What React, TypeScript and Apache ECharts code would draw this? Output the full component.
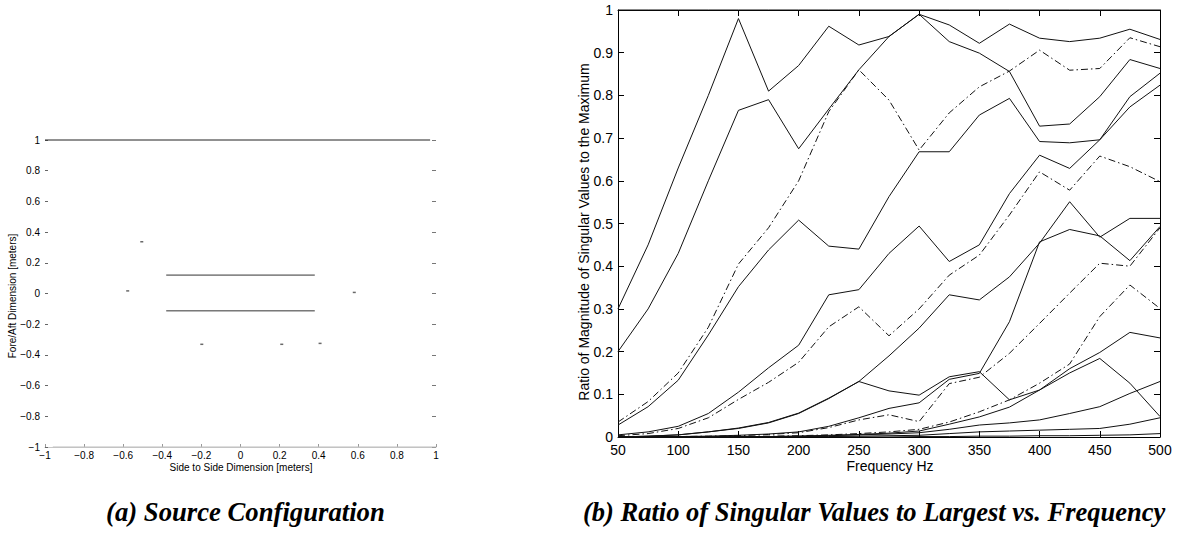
import React, { useEffect, useRef } from "react";
import * as echarts from "echarts";

// ---------- Data: (b) ratio of singular values to the largest vs. frequency ----------
const FREQS = [50, 75, 100, 125, 150, 175, 200, 225, 250, 275, 300, 325, 350, 375, 400, 425, 450, 475, 500];
const RIGHT_Y_TICKS = [0, 0.1, 0.2, 0.3, 0.4, 0.5, 0.6, 0.7, 0.8, 0.9, 1];

const SV1 = [1, 1, 1, 1, 1, 1, 1, 1, 1, 1, 1, 1, 1, 1, 1, 1, 1, 1, 1];
const SV2 = [0.30, 0.45, 0.63, 0.80, 0.98, 0.81, 0.87, 0.962, 0.918, 0.938, 0.99, 0.965, 0.922, 0.967, 0.934, 0.926, 0.934, 0.955, 0.931];
const SV3 = [0.20, 0.30, 0.43, 0.60, 0.765, 0.79, 0.675, 0.768, 0.86, 0.938, 0.99, 0.926, 0.899, 0.856, 0.728, 0.733, 0.797, 0.884, 0.863];
const SV4 = [0.035, 0.083, 0.15, 0.257, 0.405, 0.49, 0.60, 0.762, 0.86, 0.789, 0.672, 0.759, 0.82, 0.857, 0.906, 0.859, 0.863, 0.935, 0.914];
const SV5 = [0.028, 0.071, 0.133, 0.239, 0.352, 0.438, 0.508, 0.447, 0.44, 0.563, 0.668, 0.668, 0.754, 0.793, 0.692, 0.689, 0.696, 0.773, 0.824];
const SV6 = [0.005, 0.012, 0.025, 0.055, 0.105, 0.162, 0.215, 0.333, 0.345, 0.43, 0.494, 0.411, 0.45, 0.57, 0.66, 0.629, 0.696, 0.797, 0.852];
const SV7 = [0.003, 0.008, 0.02, 0.045, 0.088, 0.128, 0.175, 0.258, 0.305, 0.237, 0.30, 0.379, 0.426, 0.52, 0.621, 0.578, 0.658, 0.633, 0.598];
const SV8 = [0.0, 0.002, 0.005, 0.012, 0.02, 0.033, 0.055, 0.09, 0.13, 0.108, 0.098, 0.141, 0.153, 0.087, 0.11, 0.16, 0.198, 0.245, 0.232];
const SV9 = [0.0, 0.002, 0.005, 0.012, 0.021, 0.034, 0.056, 0.091, 0.13, 0.19, 0.255, 0.333, 0.321, 0.375, 0.454, 0.551, 0.468, 0.512, 0.512];
const SV10 = [0, 0, 0.001, 0.002, 0.004, 0.007, 0.012, 0.025, 0.045, 0.067, 0.08, 0.135, 0.149, 0.27, 0.457, 0.486, 0.471, 0.413, 0.493];
const SV11 = [0, 0, 0.001, 0.002, 0.003, 0.006, 0.01, 0.022, 0.04, 0.052, 0.036, 0.125, 0.14, 0.196, 0.266, 0.337, 0.407, 0.40, 0.49];
const SV12 = [0, 0, 0, 0, 0.001, 0.002, 0.003, 0.005, 0.008, 0.012, 0.018, 0.035, 0.059, 0.087, 0.126, 0.171, 0.282, 0.356, 0.301];
const SV13 = [0, 0, 0, 0, 0.001, 0.001, 0.002, 0.004, 0.006, 0.009, 0.014, 0.03, 0.047, 0.07, 0.11, 0.15, 0.184, 0.126, 0.048];
const SV14 = [0, 0, 0, 0, 0, 0.001, 0.002, 0.003, 0.005, 0.007, 0.01, 0.018, 0.028, 0.033, 0.04, 0.055, 0.071, 0.102, 0.13];
const SV15 = [0, 0, 0, 0, 0, 0, 0.001, 0.001, 0.002, 0.003, 0.004, 0.008, 0.012, 0.014, 0.016, 0.018, 0.02, 0.03, 0.045];
const SV16 = [0, 0, 0, 0, 0, 0, 0, 0, 0, 0, 0.001, 0.001, 0.002, 0.002, 0.003, 0.003, 0.004, 0.005, 0.008];

const SV_LINES = [SV1, SV2, SV3, SV4, SV5, SV6, SV7, SV8, SV9, SV10, SV11, SV12, SV13, SV14, SV15, SV16];
const SV_DASHDOT = [false, false, false, true, false, false, true, false, false, false, true, true, false, false, false, false];

// ---------- Data: (a) source configuration ----------
const LEFT_TICKS = [-1, -0.8, -0.6, -0.4, -0.2, 0, 0.2, 0.4, 0.6, 0.8, 1];
const TOP_ROW_X = [-1, 0.97];
const TOP_ROW_Y = [1, 1];
const BOTTOM_ROW_X = [-0.96, 1];
const BOTTOM_ROW_Y = [-1, -1];
const INNER_UPPER_X = [-0.38, 0.38];
const INNER_UPPER_Y = [0.12, 0.12];
const INNER_LOWER_X = [-0.38, 0.38];
const INNER_LOWER_Y = [-0.113, -0.113];
const SOURCE_X = [-0.505, -0.577, 0.582, -0.198, 0.211, 0.407];
const SOURCE_Y = [0.337, 0.017, 0.007, -0.331, -0.331, -0.325];

const SANS = "'Liberation Sans', Arial, Helvetica, sans-serif";
const SERIF = "'Liberation Serif', 'Times New Roman', serif";

const fmtSigned = (v: number) => {
  const t = LEFT_TICKS.find((k) => Math.abs(k - v) < 1e-6);
  const r = t !== undefined ? t : Math.round(v * 10) / 10;
  if (r === 0) return "0";
  return String(r).replace("-", "\u2212");
};

const zip = (xs: number[], ys: number[]) => xs.map((x, i) => [x, ys[i]]);

export default function App() {
  const ref = useRef<HTMLDivElement>(null);

  useEffect(() => {
    document.body.style.margin = "0";
    if (!ref.current) return;
    const chart = echarts.init(ref.current, undefined, { renderer: "svg" });

    const rightSeries = SV_LINES.map((arr, i) => ({
      type: "line",
      xAxisIndex: 1,
      yAxisIndex: 2,
      data: FREQS.map((f, j) => [f, arr[j]]),
      showSymbol: false,
      symbol: "none",
      clip: false,
      silent: true,
      lineStyle: {
        color: "#111",
        width: 1,
        type: SV_DASHDOT[i] ? [7, 3, 1.5, 3] : "solid",
      },
    }));

    const leftLine = (xs: number[], ys: number[], color: string) => ({
      type: "line",
      xAxisIndex: 0,
      yAxisIndex: 0,
      data: zip(xs, ys),
      showSymbol: false,
      symbol: "none",
      clip: false,
      silent: true,
      lineStyle: { color, width: 1 },
    });

    const option: any = {
      animation: false,
      backgroundColor: "#ffffff",
      grid: [
        { left: 45, top: 140, width: 391, height: 307 },
        { left: 618, top: 10, width: 542, height: 427 },
      ],
      xAxis: [
        {
          gridIndex: 0,
          type: "value",
          min: -1,
          max: 1,
          interval: 0.2,
          position: "bottom",
          axisLine: { show: true, onZero: false, lineStyle: { color: "#c8c8c8", width: 1 } },
          axisTick: { show: true, inside: true, length: 3, lineStyle: { color: "#999" } },
          axisLabel: { fontSize: 10, margin: 3, color: "#000", fontFamily: SANS, formatter: fmtSigned },
          splitLine: { show: false },
        },
        {
          gridIndex: 1,
          type: "value",
          min: 50,
          max: 500,
          interval: 50,
          position: "bottom",
          axisLine: { show: true, onZero: false, lineStyle: { color: "#000", width: 1 } },
          axisTick: { show: true, inside: true, length: 6, lineStyle: { color: "#000" } },
          axisLabel: { fontSize: 14, margin: 6, color: "#000", fontFamily: SANS },
          splitLine: { show: false },
        },
        {
          gridIndex: 1,
          type: "value",
          min: 50,
          max: 500,
          interval: 50,
          position: "top",
          axisLine: { show: true, onZero: false, lineStyle: { color: "#000", width: 1 } },
          axisTick: { show: true, inside: true, length: 6, lineStyle: { color: "#000" } },
          axisLabel: { show: false },
          splitLine: { show: false },
        },
      ],
      yAxis: [
        {
          gridIndex: 0,
          type: "value",
          min: -1,
          max: 1,
          interval: 0.2,
          position: "left",
          axisLine: { show: false, onZero: false },
          axisTick: { show: true, inside: true, length: 3, lineStyle: { color: "#666" } },
          axisLabel: { fontSize: 10, margin: 5, color: "#000", fontFamily: SANS, formatter: fmtSigned },
          splitLine: { show: false },
        },
        {
          gridIndex: 0,
          type: "value",
          min: -1,
          max: 1,
          interval: 0.2,
          position: "right",
          axisLine: { show: false, onZero: false },
          axisTick: { show: true, inside: true, length: 4, lineStyle: { color: "#777" } },
          axisLabel: { show: false },
          splitLine: { show: false },
        },
        {
          gridIndex: 1,
          type: "value",
          min: 0,
          max: 1,
          interval: 0.1,
          position: "left",
          axisLine: { show: true, onZero: false, lineStyle: { color: "#000", width: 1 } },
          axisTick: { show: true, inside: true, length: 6, lineStyle: { color: "#000" } },
          axisLabel: {
            fontSize: 14,
            margin: 5,
            color: "#000",
            fontFamily: SANS,
            formatter: (v: number) => {
              const t = RIGHT_Y_TICKS.find((k) => Math.abs(k - v) < 1e-6);
              return String(t !== undefined ? t : Math.round(v * 10) / 10);
            },
          },
          splitLine: { show: false },
        },
        {
          gridIndex: 1,
          type: "value",
          min: 0,
          max: 1,
          interval: 0.1,
          position: "right",
          axisLine: { show: true, onZero: false, lineStyle: { color: "#000", width: 1 } },
          axisTick: { show: true, inside: true, length: 6, lineStyle: { color: "#000" } },
          axisLabel: { show: false },
          splitLine: { show: false },
        },
      ],
      series: [
        leftLine(TOP_ROW_X, TOP_ROW_Y, "#222"),
        leftLine(BOTTOM_ROW_X, BOTTOM_ROW_Y, "#bdbdbd"),
        leftLine(INNER_UPPER_X, INNER_UPPER_Y, "#333"),
        leftLine(INNER_LOWER_X, INNER_LOWER_Y, "#333"),
        {
          type: "scatter",
          xAxisIndex: 0,
          yAxisIndex: 0,
          data: zip(SOURCE_X, SOURCE_Y),
          symbol: "rect",
          symbolSize: [3, 1.5],
          silent: true,
          itemStyle: { color: "#444" },
        },
        ...rightSeries,
      ],
      graphic: [
        {
          type: "text",
          x: 12,
          y: 296,
          rotation: Math.PI / 2,
          style: {
            text: "Fore/Aft Dimension [meters]",
            fontSize: 10,
            fontFamily: SANS,
            fill: "#000",
            align: "center",
            verticalAlign: "middle",
          },
        },
        {
          type: "text",
          x: 241,
          y: 467,
          style: {
            text: "Side to Side Dimension [meters]",
            fontSize: 10,
            fontFamily: SANS,
            fill: "#000",
            align: "center",
            verticalAlign: "middle",
          },
        },
        {
          type: "text",
          x: 584,
          y: 232,
          rotation: Math.PI / 2,
          style: {
            text: "Ratio of Magnitude of Singular Values to the Maximum",
            fontSize: 14,
            fontFamily: SANS,
            fill: "#000",
            align: "center",
            verticalAlign: "middle",
          },
        },
        {
          type: "text",
          x: 890,
          y: 466,
          style: {
            text: "Frequency Hz",
            fontSize: 14,
            fontFamily: SANS,
            fill: "#000",
            align: "center",
            verticalAlign: "middle",
          },
        },
        {
          type: "text",
          x: 106,
          y: 512,
          style: {
            text: "(a) Source Configuration",
            fontSize: 26.7,
            fontWeight: "bold",
            fontStyle: "italic",
            fontFamily: SERIF,
            fill: "#000",
            align: "left",
            verticalAlign: "middle",
          },
        },
        {
          type: "text",
          x: 583,
          y: 512,
          style: {
            text: "(b) Ratio of Singular Values to Largest vs. Frequency",
            fontSize: 26.5,
            fontWeight: "bold",
            fontStyle: "italic",
            fontFamily: SERIF,
            fill: "#000",
            align: "left",
            verticalAlign: "middle",
          },
        },
      ],
    };

    chart.setOption(option);
    return () => {
      chart.dispose();
    };
  }, []);

  return (
    <div
      ref={ref}
      style={{ position: "fixed", left: 0, top: 0, width: 1177, height: 550, background: "#fff" }}
    />
  );
}
